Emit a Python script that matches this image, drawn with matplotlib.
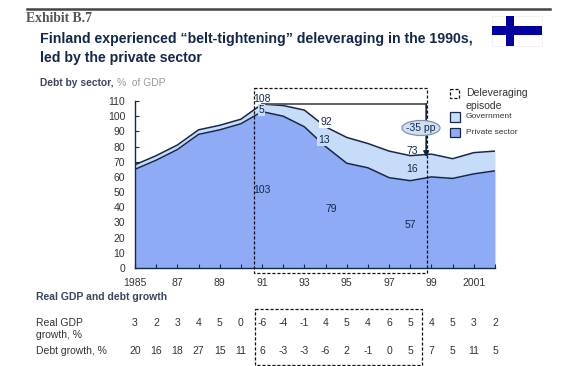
# -*- coding: utf-8 -*-
"""Finland deleveraging exhibit: stacked debt areas with growth table"""

import matplotlib
matplotlib.use('Agg')
import matplotlib.pyplot as plt
from matplotlib.patches import Ellipse, Rectangle

plt.rcParams['font.family'] = ['Liberation Sans', 'DejaVu Sans']

years = list(range(1985, 2003))
private_debt = [65, 71, 78, 88, 91, 95, 103, 100, 93, 80, 69, 66, 59.5, 57.5, 60, 59, 62, 64]
total_debt = [68, 74, 81, 91, 94, 98, 108, 107, 104, 93, 86, 82, 77, 74, 75, 72, 76, 77]
gdp_growth = [3, 2, 3, 4, 5, 0, -6, -4, -1, 4, 5, 4, 6, 5, 4, 5, 3, 2]
debt_growth = [20, 16, 18, 27, 15, 11, 6, -3, -3, -6, 2, -1, 0, 5, 7, 5, 11, 5]
year_ticks = [1985, 1987, 1989, 1991, 1993, 1995, 1997, 1999, 2001]
year_labels = ['1985', '87', '89', '91', '93', '95', '97', '99', '2001']
y_ticks = list(range(0, 111, 10))

W, H = 576, 366
NAVY = '#14284b'
TEXT = '#333333'
PRIVATE = '#8fabf6'
GOVT = '#c6dcf8'

fig = plt.figure(figsize=(W / 100, H / 100), dpi=100, facecolor='white')

# overlay in pixel coordinates for everything outside the plot
over = fig.add_axes([0, 0, 1, 1], zorder=5)
over.set_xlim(0, W)
over.set_ylim(H, 0)
over.axis('off')

# main plot
left, right, top, bottom = 135, 495, 101, 268
ax = fig.add_axes([left / W, 1 - bottom / H, (right - left) / W, (bottom - top) / H])
ax.fill_between(years, 0, private_debt, color=PRIVATE, lw=0, zorder=1)
ax.fill_between(years, private_debt, total_debt, color=GOVT, lw=0, zorder=1)
ax.plot(years, private_debt, color=NAVY, lw=1.1, zorder=2)
ax.plot(years, total_debt, color=NAVY, lw=1.1, zorder=2)
ax.set_xlim(1985, 2002)
ax.set_ylim(0, 110)
ax.set_xticks(years)
ax.set_xticklabels([year_labels[year_ticks.index(y)] if y in year_ticks else '' for y in years])
ax.set_yticks(y_ticks)
ax.tick_params(axis='both', direction='in', length=3, width=0.8, color=NAVY,
               labelsize=7.5, labelcolor=TEXT)
ax.tick_params(axis='x', pad=7)
ax.tick_params(axis='y', pad=7)
ax.yaxis.set_zorder(0.5)
for side in ['top', 'right']:
    ax.spines[side].set_visible(False)
for side in ['left', 'bottom']:
    ax.spines[side].set_color(NAVY)
    ax.spines[side].set_linewidth(1.0)

# values inside the chart, some of them break the line behind them
for x, y, s, bg in [(1990.6, 111.5, '108', None), (1990.85, 104, '5', GOVT), (1990.6, 51.5, '103', None),
                    (1993.75, 96, '92', 'white'), (1993.65, 84, '13', GOVT), (1994, 39, '79', None),
                    (1997.8, 77, '73', None), (1997.8, 65, '16', None), (1997.75, 28, '57', None)]:
    box = dict(fc=bg, ec='none', pad=0.6) if bg else None
    ax.text(x, y, s, fontsize=7.5, color=NAVY, ha='left', va='center', zorder=4, clip_on=False, bbox=box)

# peak line and arrow
ax.plot([1991, 1998.75], [108, 108], color='#555555', lw=1.3, zorder=3)
ax.annotate('', xy=(1998.75, 73), xytext=(1998.75, 108), zorder=3,
            arrowprops=dict(arrowstyle='-|>', color=NAVY, lw=1.2, mutation_scale=8,
                            shrinkA=0, shrinkB=0))

# rule, exhibit label, title
over.plot([26.5, 549.5], [9, 9], color='#444444', lw=1.8)
over.text(26.5, 19, 'Exhibit B.7', family=['Liberation Serif'], fontsize=9.8, fontweight='bold',
          color='#555555', va='center')
over.text(40, 39, 'Finland experienced \u201cbelt-tightening\u201d deleveraging in the 1990s,',
          fontsize=10.2, fontweight='bold', color=NAVY, va='center')
over.text(40, 58, 'led by the private sector', fontsize=10.2, fontweight='bold', color=NAVY, va='center')
over.text(39.5, 83.5, 'Debt by sector, ', fontsize=7.4, fontweight='bold', color='#3a4560', va='center')
over.text(117, 83.5, '%  of GDP', fontsize=7.4, color='#999999', va='center')

# flag
over.add_patch(Rectangle((492, 15.7), 50, 30.3, fc='white', ec='#eeeeee', lw=0.5))
over.add_patch(Rectangle((505.7, 15.7), 8.5, 30.3, fc='#0000a0', ec='none'))
over.add_patch(Rectangle((492, 26), 50, 9, fc='#0000a0', ec='none'))

# episode boxes
dash = dict(fc='none', ec='#111111', lw=0.9, ls=(0, (2.5, 1.5)))
over.add_patch(Rectangle((253.5, 87.5), 173.5, 185.5, **dash))
over.add_patch(Rectangle((255, 308.5), 167, 56.5, **dash))

# -35 pp bubble
over.add_patch(Ellipse((421, 128), 38, 15, fc='#cfe0f5', ec='#7f93ad', lw=0.9))
over.text(421, 128, '-35 pp', fontsize=7.5, color=NAVY, ha='center', va='center')

# legend
over.add_patch(Rectangle((450, 89), 9, 9, **dash))
over.add_patch(Rectangle((450, 112), 10, 9.5, fc=GOVT, ec=NAVY, lw=0.9))
over.add_patch(Rectangle((450, 127.5), 10, 9.5, fc=PRIVATE, ec=NAVY, lw=0.9))
over.text(466, 93, 'Deleveraging', fontsize=7.5, color=TEXT, va='center')
over.text(466, 106, 'episode', fontsize=7.5, color=TEXT, va='center')
over.text(466, 117, 'Government', fontsize=6, color=TEXT, va='center')
over.text(466, 132.5, 'Private sector', fontsize=6, color=TEXT, va='center')

# growth table
over.text(36, 296.5, 'Real GDP and debt growth', fontsize=7.5, fontweight='bold', color='#3a4560', va='center')
over.text(36, 323, 'Real GDP', fontsize=7.5, color=TEXT, va='center')
over.text(36, 335.5, 'growth, %', fontsize=7.5, color=TEXT, va='center')
over.text(36, 351, 'Debt growth, %', fontsize=7.5, color=TEXT, va='center')
xform = ax.get_xaxis_transform()
for y, g, d in zip(years, gdp_growth, debt_growth):
    ax.text(y, (bottom - 322.5) / (bottom - top), str(g), transform=xform, fontsize=7.5,
            color=TEXT, ha='center', va='center', clip_on=False)
    ax.text(y, (bottom - 351) / (bottom - top), str(d), transform=xform, fontsize=7.5,
            color=TEXT, ha='center', va='center', clip_on=False)

fig.savefig('out.png', dpi=100)
